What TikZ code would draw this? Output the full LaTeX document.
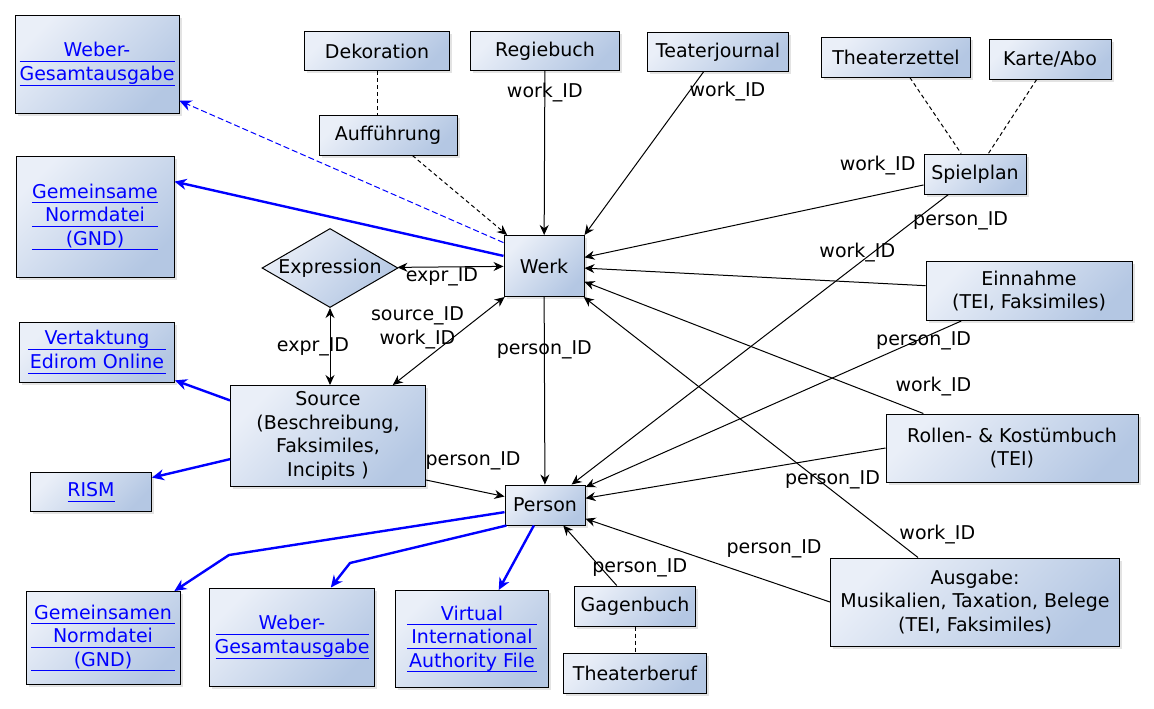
\documentclass[tikz,border=0pt]{standalone}
\usepackage{fontspec}
\setmainfont{DejaVu Sans}
\usetikzlibrary{arrows.meta,shapes.geometric,shadows,positioning}

\definecolor{boxlight}{RGB}{234,239,248}
\definecolor{boxdark}{RGB}{180,199,227}
\definecolor{linkblue}{RGB}{0,0,255}

% underlined link line of fixed width
\newcommand{\ulink}[2]{\makebox[#1]{#2}\llap{\rule[-2.6pt]{#1}{0.5pt}}}

\tikzset{
  shaded/.style={draw, line width=0.5pt, left color=boxlight, right color=boxdark,
    shading angle=45, align=center, inner sep=0pt},
  entity/.style={shaded, drop shadow={shadow xshift=1.3pt, shadow yshift=-1.3pt, fill=black!22, draw=none}},
  weblink/.style={entity, text=linkblue},
  lbl/.style={inner sep=0pt},
  ref/.style={-{Stealth[length=5pt,width=4.5pt]}, line width=0.5pt},
  refboth/.style={{Stealth[length=5pt,width=4.5pt]}-{Stealth[length=5pt,width=4.5pt]}, line width=0.5pt},
  assoc/.style={dash pattern=on 2pt off 1.5pt, line width=0.5pt},
  extlink/.style={-{Stealth[length=6pt,width=5.5pt]}, draw=linkblue, line width=1.2pt},
}

\begin{document}
\begin{tikzpicture}[x=0.5pt, y=-0.5pt, font=\fontsize{9.5}{11.7}\selectfont]
\useasboundingbox (0,0) rectangle (1154,708);

% ---------- core ----------
\node[entity, minimum width=40pt, minimum height=30.5pt] (werk) at (544,266) {Werk};
\node[entity, minimum width=40pt, minimum height=20pt] (person) at (545,505) {Person};
\node[shaded, diamond, aspect=1.7, minimum width=68pt, minimum height=38.5pt] (expr) at (330,268) {Expression};
\node[entity, minimum width=97.5pt, minimum height=50.5pt] (source) at (328,436)
  {Source\\(Beschreibung,\\Faksimiles,\\Incipits )};

% ---------- top row ----------
\node[entity, minimum width=72.5pt, minimum height=19.5pt] (dekoration) at (377,51) {Dekoration};
\node[entity, minimum width=69pt, minimum height=20pt] (auffuhrung) at (388,135) {Aufführung};
\node[entity, minimum width=74.5pt, minimum height=19.5pt] (regiebuch) at (545,51) {Regiebuch};
\node[entity, minimum width=70.5pt, minimum height=19.5pt] (teaterjournal) at (718,52) {Teaterjournal};
\node[entity, minimum width=74.5pt, minimum height=20pt] (theaterzettel) at (896,57) {Theaterzettel};
\node[entity, minimum width=61pt, minimum height=20pt] (karte) at (1050,59) {Karte/Abo};
\node[entity, minimum width=51pt, minimum height=20pt] (spielplan) at (975,174) {Spielplan};

% ---------- right column ----------
\node[entity, minimum width=103pt, minimum height=29.5pt] (einnahme) at (1029,291)
  {Einnahme\\(TEI, Faksimiles)};
\node[entity, minimum width=126pt, minimum height=34pt] (rollen) at (1012,448)
  {Rollen- \& Kostümbuch\\(TEI)};
\node[entity, minimum width=144.5pt, minimum height=44pt] (ausgabe) at (975,602)
  {Ausgabe:\\Musikalien, Taxation, Belege\\(TEI, Faksimiles)};
\node[entity, minimum width=60.5pt, minimum height=20pt] (gagenbuch) at (635,606) {Gagenbuch};
\node[entity, minimum width=71.5pt, minimum height=20pt, below=13pt of gagenbuch] (theaterberuf) {Theaterberuf};

% ---------- external links ----------
\node[weblink, minimum width=82pt, minimum height=49pt] (wega1) at (97,64)
  {\ulink{77.5pt}{Weber-}\\\ulink{77.5pt}{Gesamtausgabe}};
\node[weblink, minimum width=79pt, minimum height=60.5pt] (gnd1) at (95,217)
  {\ulink{63pt}{Gemeinsame}\\\ulink{63pt}{Normdatei}\\\ulink{63pt}{(GND)}};
\node[weblink, minimum width=77.5pt, minimum height=30pt] (vertaktung) at (97,352)
  {\ulink{69pt}{Vertaktung}\\\ulink{69pt}{Edirom Online}};
\node[weblink, minimum width=60.5pt, minimum height=19.5pt] (rism) at (91,492)
  {\ulink{23.5pt}{RISM}};
\node[weblink, minimum width=77pt, minimum height=46.5pt] (gnd2) at (103,638)
  {\ulink{72pt}{Gemeinsamen}\\\ulink{72pt}{Normdatei}\\\ulink{72pt}{(GND)}};
\node[weblink, minimum width=82.5pt, minimum height=49pt] (wega2) at (292,637)
  {\ulink{76.5pt}{Weber-}\\\ulink{76.5pt}{Gesamtausgabe}};
\node[weblink, minimum width=76.5pt, minimum height=48.5pt] (viaf) at (472,639)
  {\ulink{65pt}{Virtual}\\\ulink{65pt}{International}\\\ulink{65pt}{Authority File}};

\coordinate (gndbend) at (229,555);
\coordinate (wegabend) at (350,563);

% ---------- references to Werk ----------
\draw[assoc] (dekoration) -- (dekoration |- auffuhrung.north);
\draw[ref, assoc] (auffuhrung) -- (werk);
\draw[ref] (regiebuch) -- node[lbl, pos=0.13] {work\_ID} (werk);
\draw[ref] (teaterjournal) -- node[lbl, pos=0.12, anchor=west] {work\_ID} (werk.north east);
\draw[assoc] (theaterzettel) -- (spielplan);
\draw[assoc] (karte) -- (spielplan);
\draw[ref] (spielplan) -- node[lbl, pos=0.1, xshift=-6pt, yshift=13.5pt] {work\_ID} (werk);
\draw[ref] (einnahme) -- node[lbl, pos=0.2, yshift=15pt] {work\_ID} (werk);
\draw[ref] (rollen) -- node[lbl, pos=0.05, xshift=13.5pt, yshift=10pt] {work\_ID} (werk);
\draw[ref] (ausgabe) -- node[lbl, pos=0.05, xshift=18pt, yshift=5pt] {work\_ID} (werk);

% ---------- references to Person ----------
\draw[ref] (spielplan) -- node[lbl, pos=0.1, anchor=west, xshift=1pt, yshift=1.5pt] {person\_ID} (person);
\draw[ref] (einnahme) -- node[lbl, pos=0.1, yshift=-1.5pt] {person\_ID} (person);
\draw[ref] (rollen.west) -- node[lbl, pos=0.15, xshift=-4pt, yshift=-12pt] {person\_ID} (person);
\draw[ref] (ausgabe.west) -- node[lbl, pos=0.2, xshift=-3.5pt, yshift=18.5pt] {person\_ID} (person);
\draw[ref] (gagenbuch) -- node[lbl, pos=0.3, xshift=19.5pt] {person\_ID} (person);
\draw[assoc] (gagenbuch) -- (theaterberuf);
\draw[ref] (werk) -- node[lbl, pos=0.28] {person\_ID} (person);
\draw[ref] ([yshift=3.5pt]source.south east) -- node[lbl, pos=0.6, yshift=14.5pt] {person\_ID} (person);

% ---------- Werk / Expression / Source ----------
\draw[refboth] (werk) -- node[lbl, pos=0.58, yshift=-5pt] {expr\_ID} (expr);
\draw[refboth] (expr.south) -- node[lbl, pos=0.5, xshift=-8.5pt] {expr\_ID} (expr.south |- source.north);
\draw[refboth] (werk) -- node[lbl, pos=0.35, xshift=-24pt, align=center] {source\_ID\\work\_ID} (source);

% ---------- outgoing links ----------
\draw[extlink, line width=0.5pt, dash pattern=on 3pt off 1.5pt] (werk.150) -- (wega1.-24);
\draw[extlink] (werk.166) -- (gnd1.24.5);
\draw[extlink] (source) -- (vertaktung);
\draw[extlink] (source) -- (rism);
\draw[extlink] (person.190) -- (gndbend) -- (gnd2);
\draw[extlink] (person.208) -- (wegabend) -- (wega2);
\draw[extlink] (person) -- (viaf);

\end{tikzpicture}
\end{document}
